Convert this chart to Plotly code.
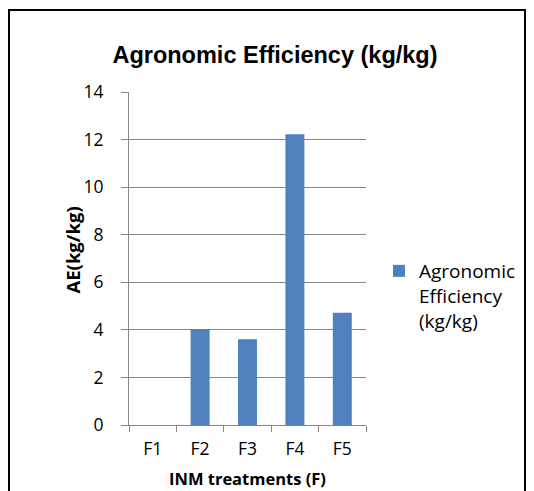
import plotly.graph_objects as go

categories = ["F1", "F2", "F3", "F4", "F5"]
ae_values = [0, 4.04, 3.6, 12.22, 4.72]
y_ticks = [0, 2, 4, 6, 8, 10, 12, 14]
series_name = "Agronomic<br>Efficiency<br>(kg/kg)"

# page body has an 8px margin; figure coordinates = screen - 8
OFF = 8
W, H = 526, 483
L, T = 129 - OFF, 92 - OFF
PR, PB = 366 - OFF, 425 - OFF
R, B = W - PR, H - PB
pw, ph = PR - L, PB - T

def px(sx):
    return (sx - OFF - L) / pw

def py(sy):
    return (PB - (sy - OFF)) / ph

FONT = "Open Sans, Lato, sans-serif"

fig = go.Figure()
fig.add_trace(go.Bar(x=categories, y=ae_values, name=series_name,
                     marker=dict(color="#4F81BD", line=dict(width=0)),
                     showlegend=True))

fig.update_layout(
    width=W, height=H,
    margin=dict(l=L, r=R, t=T, b=B),
    paper_bgcolor="white", plot_bgcolor="white",
    bargap=0.6,
    title=dict(text="<b>Agronomic Efficiency (kg/kg)</b>",
               font=dict(family="Liberation Sans, Arial", size=23.5, color="black"),
               x=(275 - OFF) / W, xanchor="center",
               y=1 - (55 - OFF) / H, yanchor="middle"),
    font=dict(family=FONT, size=17, color="black"),
    showlegend=True,
    legend=dict(x=px(420 - 41), xanchor="left", y=py(252), yanchor="top",
                valign="top",
                font=dict(family=FONT, size=19, color="black"),
                itemwidth=30, bgcolor="rgba(0,0,0,0)"),
    xaxis=dict(type="category", showline=True, linecolor="#868686", linewidth=1,
               ticks="outside", tickson="boundaries", ticklen=6, tickcolor="#868686",
               showgrid=False, tickfont=dict(size=17.5), ticklabelstandoff=8),
    yaxis=dict(range=[0, 14], tickvals=y_ticks, showline=True, linecolor="#868686",
               linewidth=1, ticks="outside", ticklen=7, tickcolor="#868686",
               showgrid=True, gridcolor="#868686", gridwidth=1, zeroline=False,
               tickfont=dict(size=17.5), ticklabelstandoff=14),
)

fig.add_annotation(text="<b>AE(kg/kg)</b>", xref="paper", yref="paper",
                   x=px(71.5), y=py(250), xanchor="center", yanchor="middle",
                   textangle=-90, showarrow=False,
                   font=dict(family=FONT, size=18.5, color="black"))
fig.add_annotation(text="<b>INM treatments (F)</b>", xref="paper", yref="paper",
                   x=0.5, y=py(465), xanchor="center", yanchor="top", showarrow=False,
                   font=dict(family=FONT, size=16.5, color="black"))

fig.add_shape(type="rect", xref="paper", yref="paper",
              x0=px(9), x1=px(525), y0=py(530), y1=py(10),
              line=dict(color="black", width=2), fillcolor="rgba(0,0,0,0)", layer="above")

fig.write_html("out.html")
